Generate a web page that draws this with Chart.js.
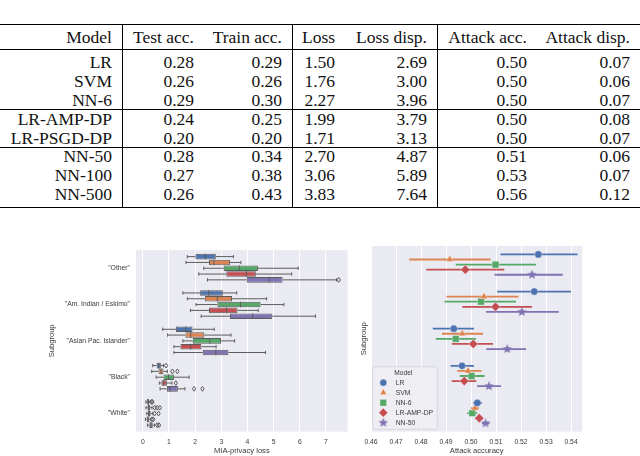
<!DOCTYPE html>
<html>
<head>
<meta charset="utf-8">
<script src="https://cdn.jsdelivr.net/npm/chart.js"></script>
<style>
html, body { margin: 0; padding: 0; background: #fff; }
body { width: 640px; height: 456px; position: relative; overflow: hidden; }
#table { position: absolute; left: 0; top: 0; width: 640px; height: 240px;
  font-family: "Liberation Serif", "Times New Roman", serif; font-size: 17.5px; color: #111; }
.cell { position: absolute; white-space: nowrap; line-height: 18px; text-align: right; }
.rule { position: absolute; left: 0; width: 640px; background: #000; }
.vbar { position: absolute; width: 1px; background: #000; }
canvas { position: absolute; }
</style>
</head>
<body>
<div id="table"></div>
<canvas id="lossChart" width="352" height="216" style="left:0;top:240px"></canvas>
<canvas id="accChart" width="288" height="216" style="left:352px;top:240px"></canvas>
<script>
// ---- table ----
const tableHeader = ['Model', 'Test acc.', 'Train acc.', 'Loss', 'Loss disp.', 'Attack acc.', 'Attack disp.'];
const tableModels = ['LR', 'SVM', 'NN-6', 'LR-AMP-DP', 'LR-PSGD-DP', 'NN-50', 'NN-100', 'NN-500'];
const testAcc = ['0.28', '0.26', '0.29', '0.24', '0.20', '0.28', '0.27', '0.26'];
const trainAcc = ['0.29', '0.26', '0.30', '0.25', '0.20', '0.34', '0.38', '0.43'];
const lossMean = ['1.50', '1.76', '2.27', '1.99', '1.71', '2.70', '3.06', '3.83'];
const lossDisp = ['2.69', '3.00', '3.96', '3.79', '3.13', '4.87', '5.89', '7.64'];
const attackAcc = ['0.50', '0.50', '0.50', '0.50', '0.50', '0.51', '0.53', '0.56'];
const attackDisp = ['0.07', '0.06', '0.07', '0.08', '0.07', '0.06', '0.07', '0.12'];

// ---- chart data ----
const subgroups = ['"Other"', '"Am. Indian / Eskimo"', '"Asian Pac. Islander"', '"Black"', '"White"'];
const models = ['LR', 'SVM', 'NN-6', 'LR-AMP-DP', 'NN-50'];

// box plot stats, [model][subgroup]
const lossQ1 = [[2.01, 2.19, 1.27, 0.53, 0.17], [2.53, 2.37, 1.63, 0.60, 0.18], [3.09, 2.85, 1.91, 0.79, 0.20], [3.19, 2.53, 1.44, 0.71, 0.15], [3.97, 3.33, 2.29, 0.92, 0.25]];
const lossMedian = [[2.39, 2.52, 1.64, 0.61, 0.20], [2.72, 2.85, 1.83, 0.70, 0.22], [3.69, 3.73, 2.56, 0.98, 0.25], [3.96, 3.20, 1.83, 0.80, 0.20], [4.83, 4.20, 2.79, 1.04, 0.31]];
const lossQ3 = [[2.79, 3.06, 1.90, 0.69, 0.24], [3.33, 3.41, 2.35, 0.79, 0.28], [4.40, 4.50, 2.99, 1.19, 0.30], [4.32, 3.62, 2.24, 0.92, 0.25], [5.34, 4.95, 3.27, 1.34, 0.38]];
const lossWhiskLo = [[1.70, 1.53, 0.76, 0.38, 0.12], [1.65, 1.70, 0.95, 0.34, 0.12], [2.33, 2.03, 1.53, 0.51, 0.15], [2.14, 1.82, 1.19, 0.63, 0.10], [2.47, 2.23, 1.19, 0.66, 0.18]];
const lossWhiskHi = [[3.46, 3.59, 2.73, 0.79, 0.28], [3.75, 4.73, 3.37, 0.94, 0.35], [5.94, 5.39, 3.51, 1.77, 0.38], [5.69, 4.41, 2.80, 1.11, 0.30], [7.40, 6.60, 4.69, 1.61, 0.45]];
const lossOutliers = [
  [[], [], [], [0.89], [0.33, 0.37]],
  [[], [], [], [1.13, 1.32], [0.45, 0.55, 0.65]],
  [[], [], [], [], [0.45, 0.60]],
  [[], [], [], [1.26], [0.35, 0.40]],
  [[7.49], [], [], [1.96, 2.28], [0.55, 0.62]]
];
const lossTicks = [0, 1, 2, 3, 4, 5, 6, 7];

// attack accuracy point estimates and intervals, [model][subgroup]
const accMean = [[0.5269, 0.5253, 0.4931, 0.4964, 0.5025], [0.4915, 0.5052, 0.4965, 0.4988, 0.5016], [0.5098, 0.5040, 0.4939, 0.5002, 0.5005], [0.4977, 0.5098, 0.5009, 0.4973, 0.5033], [0.5244, 0.5203, 0.5145, 0.5072, 0.5058]];
const accLo = [[0.5118, 0.5105, 0.4847, 0.4918, 0.5008], [0.4753, 0.4902, 0.4884, 0.4945, 0.5000], [0.4939, 0.4894, 0.4859, 0.4955, 0.4985], [0.4821, 0.4965, 0.4923, 0.4923, 0.5018], [0.5094, 0.5060, 0.5061, 0.5024, 0.5044]];
const accHi = [[0.5426, 0.5400, 0.5012, 0.5012, 0.5044], [0.5078, 0.5190, 0.5048, 0.5042, 0.5032], [0.5260, 0.5180, 0.5020, 0.5054, 0.5025], [0.5133, 0.5244, 0.5088, 0.5021, 0.5048], [0.5367, 0.5351, 0.5220, 0.5120, 0.5074]];
const accTicks = [0.46, 0.47, 0.48, 0.49, 0.50, 0.51, 0.52, 0.53, 0.54];

// ---- styles ----
const deep = ['#4C72B0', '#DD8452', '#55A868', '#C44E52', '#8172B3'];
const edgeColor = '#5c5c5c';
const textColor = '#3a3a3a';
const sans = '"Liberation Sans", Arial, sans-serif';
const dodge = 0.137;

// build the table
const tbl = document.getElementById('table');
const colRight = [112, 194, 282, 335, 427, 527, 630];
const rowY = [62, 81, 100, 118.5, 137.5, 156, 175, 194];
function addCell(text, col, y) {
  const d = document.createElement('div');
  d.className = 'cell';
  d.textContent = text;
  d.style.right = (640 - colRight[col]) + 'px';
  d.style.top = (y - 9) + 'px';
  tbl.appendChild(d);
}
tableHeader.forEach((h, c) => addCell(h, c, 37));
const tableCols = [tableModels, testAcc, trainAcc, lossMean, lossDisp, attackAcc, attackDisp];
tableCols.forEach((col, c) => col.forEach((v, r) => addCell(v, c, rowY[r])));
[[23.5, 1.6], [49, 0.9], [109, 0.9], [147, 0.9], [206.5, 1.6]].forEach(([y, h]) => {
  const d = document.createElement('div');
  d.className = 'rule';
  d.style.top = y + 'px';
  d.style.height = h + 'px';
  tbl.appendChild(d);
});
[122, 292, 437].forEach(x => {
  const d = document.createElement('div');
  d.className = 'vbar';
  d.style.left = x + 'px';
  d.style.top = '25px';
  d.style.height = '181.5px';
  tbl.appendChild(d);
});

// ---- plugins ----
const bgPlugin = {
  id: 'bg',
  beforeDraw(chart) {
    const { ctx, chartArea: a } = chart;
    ctx.save();
    ctx.fillStyle = '#EAEAF2';
    ctx.fillRect(a.left, a.top, a.right - a.left, a.bottom - a.top);
    ctx.restore();
  }
};

const boxPlugin = {
  id: 'boxExtras',
  afterDatasetsDraw(chart) {
    const ctx = chart.ctx;
    const xs = chart.scales.x;
    const px = v => xs.getPixelForValue(v);
    ctx.save();
    ctx.strokeStyle = edgeColor;
    ctx.lineWidth = 1;
    models.forEach((m, mi) => {
      chart.getDatasetMeta(mi).data.forEach((bar, gi) => {
        const y = bar.y, h = bar.height;
        const lo = px(lossWhiskLo[mi][gi]), hi = px(lossWhiskHi[mi][gi]);
        ctx.beginPath();
        ctx.moveTo(lo, y); ctx.lineTo(px(lossQ1[mi][gi]), y);
        ctx.moveTo(px(lossQ3[mi][gi]), y); ctx.lineTo(hi, y);
        ctx.moveTo(lo, y - h * 0.3); ctx.lineTo(lo, y + h * 0.3);
        ctx.moveTo(hi, y - h * 0.3); ctx.lineTo(hi, y + h * 0.3);
        const med = px(lossMedian[mi][gi]);
        ctx.moveTo(med, y - h / 2); ctx.lineTo(med, y + h / 2);
        ctx.stroke();
        lossOutliers[mi][gi].forEach(v => {
          const x = px(v);
          ctx.beginPath();
          ctx.moveTo(x, y - 2.4); ctx.lineTo(x + 1.7, y); ctx.lineTo(x, y + 2.4); ctx.lineTo(x - 1.7, y);
          ctx.closePath();
          ctx.stroke();
        });
      });
    });
    ctx.restore();
  }
};

// filled star marker for NN-50
function makeStar(color, size) {
  const c = document.createElement('canvas');
  c.width = size; c.height = size;
  const g = c.getContext('2d');
  const cx = size / 2, cy = size / 2, R = size / 2, r = R * 0.45;
  g.beginPath();
  for (let i = 0; i < 10; i++) {
    const rad = (i % 2 ? r : R);
    const a = -Math.PI / 2 + i * Math.PI / 5;
    g.lineTo(cx + rad * Math.cos(a), cy + rad * Math.sin(a));
  }
  g.closePath();
  g.fillStyle = color;
  g.fill();
  return c;
}
const markerStyles = ['circle', 'triangle', 'rect', 'rectRot', makeStar(deep[4], 10)];
const markerRadius = [3.6, 4.2, 4.8, 4.6, 4];

const legendPlugin = {
  id: 'boxLegend',
  afterDraw(chart) {
    const { ctx, chartArea: a } = chart;
    const left = a.left + 1.7, top = a.bottom - 65, w = 64.6, h = 62.6;
    ctx.save();
    ctx.fillStyle = '#eeeef3';
    ctx.strokeStyle = '#d2d2d9';
    ctx.lineWidth = 0.8;
    ctx.beginPath();
    ctx.roundRect(left, top, w, h, 2);
    ctx.fill();
    ctx.stroke();
    ctx.fillStyle = textColor;
    ctx.textBaseline = 'middle';
    ctx.textAlign = 'center';
    ctx.font = '6.6px ' + sans;
    ctx.fillText('Model', left + 30.6, top + 6);
    ctx.textAlign = 'left';
    ctx.font = '6.8px ' + sans;
    models.forEach((m, mi) => {
      const y = top + 16 + mi * 10;
      ctx.fillStyle = deep[mi];
      ctx.strokeStyle = 'rgba(255,255,255,0.6)';
      Chart.helpers.drawPoint(ctx, { pointStyle: markerStyles[mi], radius: markerRadius[mi], borderWidth: 0.6, rotation: 0 }, left + 10.6, y);
      ctx.fillStyle = textColor;
      ctx.fillText(m, left + 23, y);
    });
    ctx.restore();
  }
};

// ---- left chart: MIA-privacy loss boxes ----
new Chart(document.getElementById('lossChart'), {
  type: 'bar',
  data: {
    labels: subgroups,
    datasets: models.map((m, mi) => ({
      label: m,
      data: subgroups.map((g, gi) => [lossQ1[mi][gi], lossQ3[mi][gi]]),
      backgroundColor: deep[mi],
      borderColor: edgeColor,
      borderWidth: 1,
      borderSkipped: false,
      categoryPercentage: 0.8,
      barPercentage: 0.96
    }))
  },
  options: {
    indexAxis: 'y',
    responsive: false,
    animation: false,
    events: [],
    layout: { padding: { top: 6, right: 4.3, left: 0, bottom: 0 } },
    plugins: { legend: { display: false }, tooltip: { enabled: false } },
    scales: {
      x: {
        type: 'linear', min: -0.26, max: 7.83,
        afterBuildTicks: ax => { ax.ticks = lossTicks.map(v => ({ value: v })); },
        grid: { color: '#ffffff', lineWidth: 1, drawTicks: false },
        border: { display: false },
        ticks: { padding: 6, color: textColor, font: { family: sans, size: 6.8 } },
        title: { display: true, text: 'MIA-privacy loss', color: textColor, font: { family: sans, size: 7.6 }, padding: { top: 0, bottom: 0.8 } },
        afterFit: ax => { ax.height = 24.3; }
      },
      y: {
        grid: { display: false, drawTicks: false },
        border: { display: false },
        ticks: { padding: 6, color: textColor, font: { family: sans, size: 6.8 } },
        title: { display: true, text: 'Subgroup', color: textColor, font: { family: sans, size: 7.6 }, padding: { top: 47, bottom: 0 } },
        afterFit: ax => { ax.width = 136; }
      }
    }
  },
  plugins: [bgPlugin, boxPlugin]
});

// ---- right chart: attack accuracy points with intervals ----
function errorBarPoints(mi) {
  return subgroups.flatMap((g, gi) => {
    const y = gi + (mi - 2) * dodge;
    return [{ x: accLo[mi][gi], y: y }, { x: accHi[mi][gi], y: y }, { x: null, y: null }];
  });
}

new Chart(document.getElementById('accChart'), {
  type: 'scatter',
  data: {
    datasets: [
      ...models.map((m, mi) => ({
        type: 'line',
        label: m + ' interval',
        data: errorBarPoints(mi),
        borderColor: deep[mi],
        borderWidth: 1.8,
        pointRadius: 0,
        spanGaps: false,
        order: 1
      })),
      ...models.map((m, mi) => ({
        type: 'scatter',
        label: m,
        data: subgroups.map((g, gi) => ({ x: accMean[mi][gi], y: gi + (mi - 2) * dodge })),
        backgroundColor: deep[mi],
        borderColor: 'rgba(255,255,255,0.6)',
        borderWidth: 0.6,
        pointStyle: markerStyles[mi],
        pointRadius: markerRadius[mi],
        order: 0
      }))
    ]
  },
  options: {
    responsive: false,
    animation: false,
    events: [],
    layout: { padding: { top: 6, right: 57.7, left: 0, bottom: 0 } },
    plugins: { legend: { display: false }, tooltip: { enabled: false } },
    scales: {
      x: {
        type: 'linear', min: 0.46, max: 0.5445,
        afterBuildTicks: ax => { ax.ticks = accTicks.map(v => ({ value: v })); },
        grid: { color: '#ffffff', lineWidth: 1, drawTicks: false },
        border: { display: false },
        ticks: { padding: 6, color: textColor, font: { family: sans, size: 6.8 }, callback: v => v.toFixed(2) },
        title: { display: true, text: 'Attack accuracy', color: textColor, font: { family: sans, size: 7.6 }, padding: { top: 0, bottom: 0.8 } },
        afterFit: ax => { ax.height = 24.3; }
      },
      y: {
        type: 'linear', min: -0.5, max: 4.5, reverse: true,
        grid: { display: false, drawTicks: false },
        border: { display: false },
        ticks: { display: false },
        title: { display: true, text: 'Subgroup', color: textColor, font: { family: sans, size: 7.6 }, padding: { top: 7.4, bottom: 0 } },
        afterFit: ax => { ax.width = 19; }
      }
    }
  },
  plugins: [bgPlugin, legendPlugin]
});
</script>
</body>
</html>
